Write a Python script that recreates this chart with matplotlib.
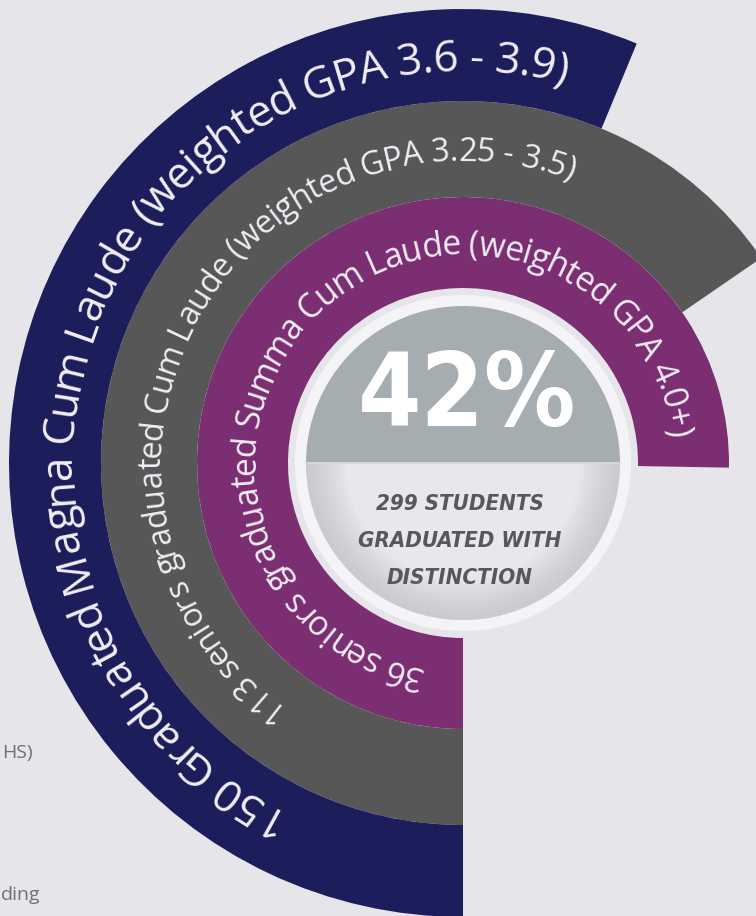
import numpy as np
import matplotlib.pyplot as plt
from matplotlib.font_manager import FontProperties

# ring data, inner ring first
counts = [36, 113, 150]
honours = ["seniors graduated Summa Cum Laude", "seniors graduated Cum Laude",
           "Graduated Magna Cum Laude"]
gpa_ranges = ["4.0+", "3.25 - 3.5", "3.6 - 3.9"]
sweep_deg = [271, 235.5, 202.5]                  # bar length, clockwise from 6 o'clock
text_span = [(11, 263), (36, 201), (27, 195)]   # where each label starts / ends
colors = ["#7b2f72", "#575757", "#1c1e5b"]

pct_text = "42%"
sub_lines = ["299 STUDENTS", "GRADUATED WITH", "DISTINCTION"]
side_notes = ["HS)", "ding"]

labels = [f"{c} {h} (weighted GPA {g})" for c, h, g in zip(counts, honours, gpa_ranges)]

W, H = 756, 916
bg = "#e6e6ea"
fig = plt.figure(figsize=(W / 100, H / 100), dpi=100, facecolor=bg)

# polar axes whose radius unit is one pixel, centred on the rings
cx, cy, R = 463, 463, 470
ax = fig.add_axes([(cx - R) / W, (H - cy - R) / H, 2 * R / W, 2 * R / H], projection="polar")
ax.set_theta_zero_location("S")
ax.set_theta_direction(-1)
ax.set_ylim(0, R)
ax.axis("off")

edges = [175, 266, 362, 454]
for i in range(3):
    sw = np.radians(sweep_deg[i])
    ax.bar(sw / 2, edges[i + 1] - edges[i], width=sw, bottom=edges[i],
           color=colors[i], linewidth=0)

# centre badge
ax.bar(np.pi, 168, width=2 * np.pi, bottom=0, color="#f4f4f6", linewidth=0)
ax.bar(np.pi, 157, width=np.pi, bottom=0, color="#a5adb0", linewidth=0)
ax.bar(0, 157, width=np.pi, bottom=0, color="#e8e8ec", linewidth=0)
for k in range(10):
    r0 = 118 + 3.8 * k
    ax.bar(0, 157 - r0, width=np.pi, bottom=r0, color="#b4b5ba", alpha=0.07, linewidth=0)
ax.plot([np.pi / 2, 3 * np.pi / 2], [157, 157], color="#d5d8da", lw=1.5)

renderer = fig.canvas.get_renderer()


def arc_text(text, r, phi0, phi1, color, family="Open Sans"):
    base = 20
    prop = FontProperties(family=family, size=base)
    w_xx = renderer.get_text_width_height_descent("xx", prop, ismath=False)[0]
    adv = np.array([renderer.get_text_width_height_descent("x" + c + "x", prop, ismath=False)[0] - w_xx
                    for c in text])
    scale = np.radians(phi1 - phi0) * r / adv.sum()
    size = base * scale
    adv = adv * scale
    mid = np.cumsum(adv) - adv / 2
    phis = phi0 + np.degrees(mid / r)
    r_base = r - 0.36 * size * 100 / 72
    for c, p in zip(text, phis):
        ax.text(np.radians(p), r_base, c, rotation=180 - p, rotation_mode="anchor",
                ha="center", va="baseline", fontsize=size, color=color, family=family)


for i in range(3):
    r_mid = (edges[i] + edges[i + 1]) / 2
    arc_text(labels[i], r_mid, text_span[i][0], text_span[i][1], "#f1edf4")

big = ["DejaVu Sans"]
fig.text(467 / W, 1 - 426 / H, pct_text, ha="center", va="baseline", color="white",
         fontsize=73, fontweight="heavy", fontstretch="condensed", family=big)
for k, line in enumerate(sub_lines):
    fig.text(460 / W, 1 - (510 + 37 * k) / H, line, ha="center", va="baseline",
             color="#58585a", fontsize=16, fontweight="bold", fontstyle="italic",
             fontstretch="condensed", family=big)

fig.text(33 / W, 1 - 758 / H, side_notes[0], ha="right", va="baseline", color="#707070",
         fontsize=14, family="Open Sans")
fig.text(40 / W, 1 - 900 / H, side_notes[1], ha="right", va="baseline", color="#707070",
         fontsize=14, family="Open Sans")

fig.savefig("out.png", dpi=100, facecolor=bg)
